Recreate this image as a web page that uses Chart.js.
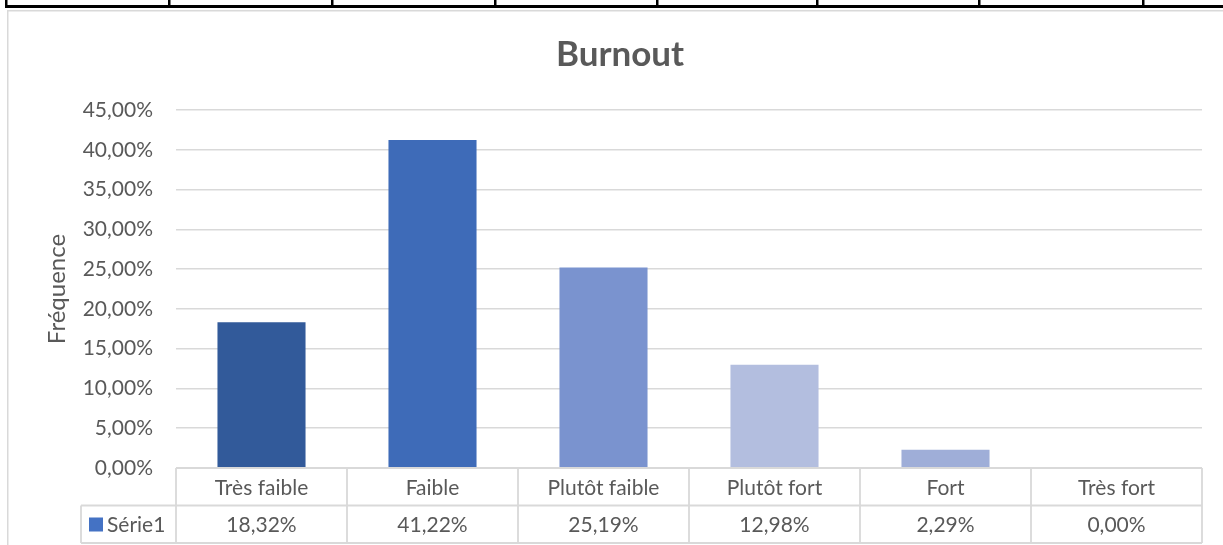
<!DOCTYPE html>
<html>
<head>
<meta charset="utf-8">
<script src="https://cdn.jsdelivr.net/npm/chart.js@4/dist/chart.umd.min.js"></script>
<style>
  body { margin: 0; background: #fff; }
  #wrap { width: 1223px; height: 545px; }
</style>
</head>
<body>
<div id="wrap"><canvas id="graph" width="1223" height="545"></canvas></div>
<script>
// data
const categories = ['Très faible', 'Faible', 'Plutôt faible', 'Plutôt fort', 'Fort', 'Très fort'];
const serie1 = [18.32, 41.22, 25.19, 12.98, 2.29, 0.00];
const barColors = ['#325A9A', '#3E6BB8', '#7A93CF', '#B3BEDF', '#9FAED8', '#C5CDE8'];
const seriesName = 'Série1';
const yTicks = [0, 5, 10, 15, 20, 25, 30, 35, 40, 45];

const fmt = v => v.toFixed(2).replace('.', ',') + '%';
const grey = '#595959';
const lineGrey = '#d9d9d9';

// page frame (the worksheet border above and the chart outline)
const framePlugin = {
    id: 'frame',
    afterLayout(chart) {
        // Excel centres the title on the whole chart frame, not on the plot
        if (chart.titleBlock) chart.titleBlock.left += 38;
    },
    beforeDraw(chart) {
        const ctx = chart.ctx;
        ctx.save();
        ctx.fillStyle = '#fff';
        ctx.fillRect(0, 0, chart.width, chart.height);
        ctx.fillStyle = '#000';
        ctx.fillRect(5, 5, chart.width - 5, 3);
        [5, 168, 331, 494, 656, 816, 978, 1142].forEach(x => ctx.fillRect(x, 0, 2.5, 8));
        ctx.strokeStyle = lineGrey;
        ctx.lineWidth = 1.5;
        ctx.beginPath();
        ctx.moveTo(7.75, chart.height);
        ctx.lineTo(7.75, 10.75);
        ctx.lineTo(chart.width, 10.75);
        ctx.stroke();
        ctx.restore();
    }
};

// data table under the plot
const tablePlugin = {
    id: 'dataTable',
    afterDraw(chart) {
        const ctx = chart.ctx;
        const x = chart.scales.x;
        const area = chart.chartArea;
        const step = x.getPixelForValue(1) - x.getPixelForValue(0);
        const top = area.bottom;
        const rowH = 37.5;
        const mid = top + rowH;
        const bottom = top + rowH * 2;
        const legLeft = 81;

        ctx.save();
        ctx.strokeStyle = lineGrey;
        ctx.lineWidth = 1.8;
        ctx.beginPath();
        ctx.moveTo(area.left, top); ctx.lineTo(area.right, top);
        ctx.moveTo(legLeft, mid); ctx.lineTo(area.right, mid);
        ctx.moveTo(legLeft, bottom); ctx.lineTo(area.right, bottom);
        ctx.moveTo(legLeft, mid); ctx.lineTo(legLeft, bottom);
        for (let i = 0; i <= categories.length; i++) {
            const bx = x.getPixelForValue(i) - step / 2;
            ctx.moveTo(bx, top); ctx.lineTo(bx, bottom);
        }
        ctx.stroke();

        ctx.fillStyle = grey;
        ctx.font = '21px Lato';
        ctx.textAlign = 'center';
        ctx.textBaseline = 'middle';
        chart.data.labels.forEach((lab, i) => {
            const cx = x.getPixelForValue(i);
            ctx.fillText(lab, cx, top + rowH / 2 + 1);
            ctx.fillText(fmt(chart.data.datasets[0].data[i]), cx, mid + rowH / 2 + 1);
        });

        ctx.fillStyle = '#4472C4';
        ctx.fillRect(89, mid + 12, 14, 14);
        ctx.fillStyle = grey;
        ctx.textAlign = 'left';
        ctx.fillText(seriesName, 107, mid + rowH / 2 + 1);
        ctx.restore();
    }
};

let context = document.querySelector('#graph').getContext('2d');

new Chart(context, {
    type: 'bar',
    data: {
        labels: categories,
        datasets: [
            {
                label: seriesName,
                data: serie1,
                backgroundColor: barColors,
                barPercentage: 0.515,
                categoryPercentage: 1.0
            }
        ]
    },
    options: {
        responsive: false,
        animation: false,
        layout: { padding: { left: 0, right: 21, top: 0, bottom: 77 } },
        plugins: {
            legend: { display: false },
            tooltip: { enabled: false },
            title: {
                display: true,
                text: 'Burnout',
                color: grey,
                font: { family: 'Lato', size: 35, weight: 'bold' },
                padding: { top: 34, bottom: 34 }
            }
        },
        scales: {
            x: {
                display: false
            },
            y: {
                min: 0,
                max: 45,
                afterFit(scale) { scale.width = 176; },
                afterBuildTicks(scale) { scale.ticks = yTicks.map(v => ({ value: v })); },
                border: { display: false },
                grid: { color: lineGrey, lineWidth: 1.5, drawTicks: false },
                ticks: {
                    color: grey,
                    padding: 23,
                    font: { family: 'Lato', size: 21 },
                    callback: v => fmt(v)
                },
                title: {
                    display: true,
                    text: 'Fréquence',
                    color: grey,
                    font: { family: 'Lato', size: 24 },
                    padding: { top: 43, bottom: 0 }
                }
            }
        }
    },
    plugins: [framePlugin, tablePlugin]
});
</script>
</body>
</html>
